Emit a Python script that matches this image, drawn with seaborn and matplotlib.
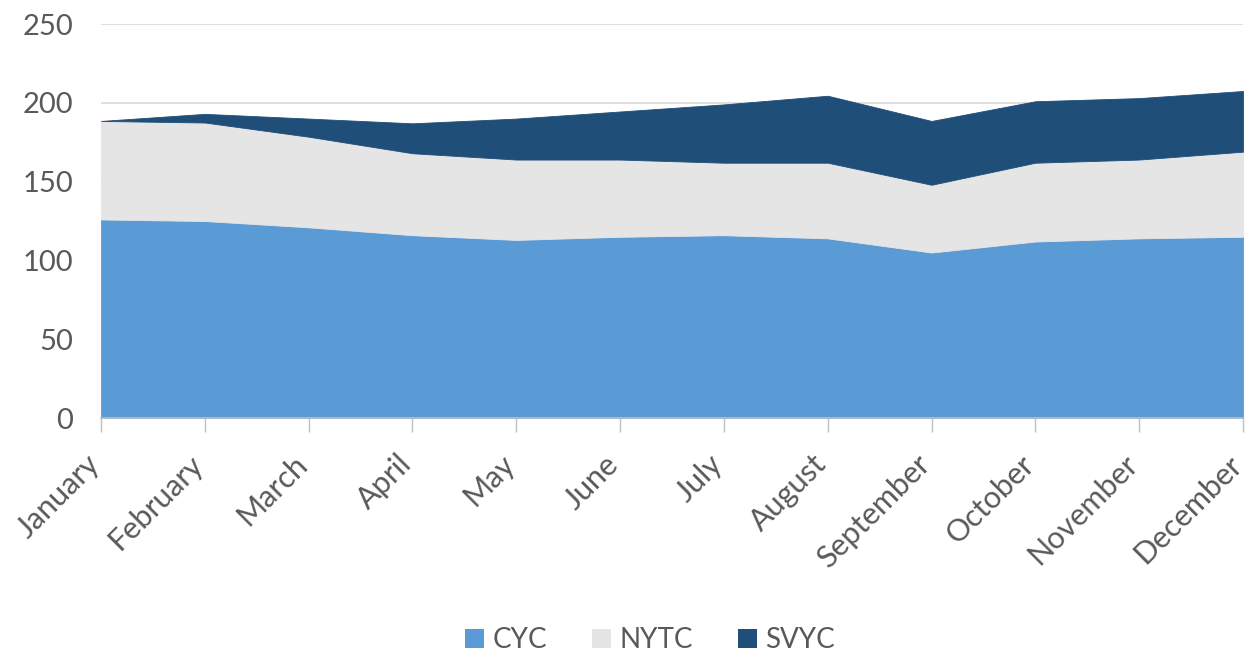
import numpy as np
import pandas as pd
import matplotlib
matplotlib.use("Agg")
import matplotlib.pyplot as plt
import matplotlib.transforms as mtransforms
import seaborn as sns
from matplotlib.patches import Patch

# Dados
months = ["January", "February", "March", "April", "May", "June",
          "July", "August", "September", "October", "November", "December"]
cyc = [126, 125, 121, 116, 113, 115, 116, 114, 105, 112, 114, 115]
nytc = [62.5, 62.5, 57.5, 52, 51, 49, 46, 48, 43, 50, 50, 54]
svyc = [0, 5.5, 11.5, 19, 26, 30.5, 37, 42.5, 40.5, 39, 39, 38.5]
series = ["CYC", "NYTC", "SVYC"]
colors = ["#5B9BD5", "#E5E5E5", "#1F4E79"]

df = pd.DataFrame({"month": months, "CYC": cyc, "NYTC": nytc, "SVYC": svyc})

sns.set_theme(style="white")
plt.rcParams["font.family"] = ["Lato", "DejaVu Sans"]

fig = plt.figure(figsize=(12.5, 6.58), dpi=100)
ax = fig.add_axes([0.0808, 0.3647, 0.9136, 0.5988])

x = np.arange(len(months))
ax.stackplot(x, df["CYC"], df["NYTC"], df["SVYC"], colors=colors,
             labels=series, edgecolor="face", linewidth=0.6, zorder=2)

ax.set_xlim(0, len(months) - 1)
ax.set_ylim(0, 250)
ax.set_yticks(range(0, 251, 50))
ax.yaxis.grid(True, color="#D9D9D9", linewidth=1.2, zorder=0)
ax.set_axisbelow(True)

ax.set_xticks(x)
ax.set_xticklabels(months, rotation=45, ha="right", va="center",
                   rotation_mode="anchor")
ax.tick_params(axis="x", which="major", bottom=True, length=10, width=1,
               color="#BFBFBF", labelsize=22, labelcolor="#595959", pad=20)
ax.tick_params(axis="y", left=False, labelsize=21, labelcolor="#595959", pad=14)

# décaler un peu les étiquettes vers la gauche
shift = mtransforms.ScaledTranslation(-6 / 100, 0, fig.dpi_scale_trans)
for lbl in ax.get_xticklabels():
    lbl.set_transform(lbl.get_transform() + shift)

sns.despine(ax=ax, left=True, top=True, right=True)
ax.spines["bottom"].set_color("#BFBFBF")
ax.spines["bottom"].set_linewidth(1.2)
ax.spines["bottom"].set_zorder(3)

handles = [Patch(facecolor=c, edgecolor="none", label=s) for c, s in zip(colors, series)]
fig.legend(handles=handles, loc="center", bbox_to_anchor=(0.52, 0.027), ncol=3,
           frameon=False, fontsize=20, labelcolor="#595959", handlelength=0.7,
           handleheight=0.7, handletextpad=0.3, columnspacing=1.6)

fig.savefig("out.png", dpi=100)
